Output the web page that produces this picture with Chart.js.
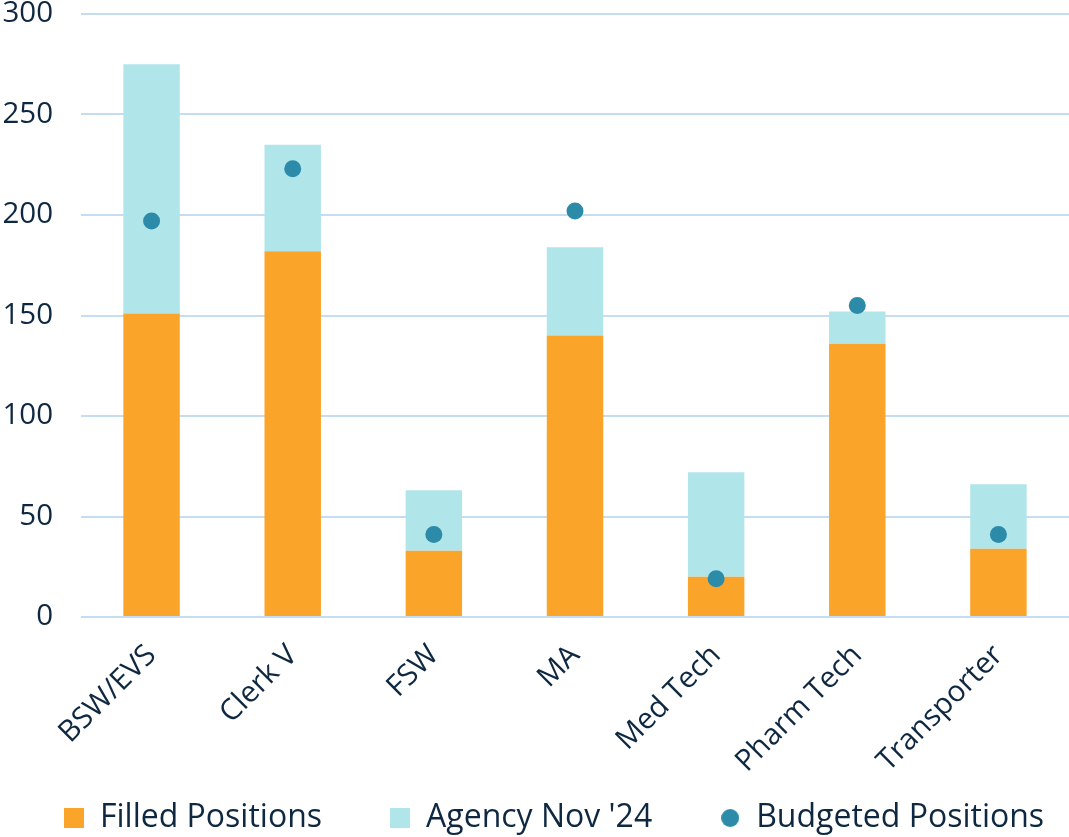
<!DOCTYPE html>
<html>
<head>
<meta charset="utf-8">
<script src="https://cdn.jsdelivr.net/npm/chart.js@4/dist/chart.umd.min.js"></script>
<style>
  html, body { margin: 0; padding: 0; background: #fff; overflow: hidden; }
  #wrap { width: 1069px; height: 837px; }
  canvas { display: block; }
</style>
</head>
<body>
<div id="wrap"><canvas id="myChart"></canvas></div>
<script>
const categories = ["BSW/EVS", "Clerk V", "FSW", "MA", "Med Tech", "Pharm Tech", "Transporter"];
const filledPositions = [151, 182, 33, 140, 20, 136, 34];
const agencyNov24 = [124, 53, 30, 44, 52, 16, 32];
const budgetedPositions = [197, 223, 41, 202, 19, 155, 41];
const yTicks = [0, 50, 100, 150, 200, 250, 300];

const textColor = "#0E2841";
const gridColor = "#C5DDF3";
const dotColor = "#2D8BAA";
const tickFont = { family: "Open Sans", size: 29.5 };
const legendFont = { family: "Open Sans", size: 32 };

// small dot image for the legend
const dotImg = document.createElement("canvas");
dotImg.width = 18;
dotImg.height = 18;
const dctx = dotImg.getContext("2d");
dctx.fillStyle = dotColor;
dctx.beginPath();
dctx.arc(9, 9, 9, 0, Math.PI * 2);
dctx.fill();

const legendHeight = 57;
const legendFit = {
  id: "legendFit",
  beforeInit(chart) {
    const origFit = chart.legend.fit;
    chart.legend.fit = function () {
      // keep all three items on one row
      this.maxWidth = 3000;
      origFit.bind(chart.legend)();
      this.width = chart.width;
      this.height = legendHeight;
    };
  },
  afterLayout(chart) {
    // pull the legend row up so it sits where the reference has it
    const lg = chart.legend;
    lg.top = 818 - 68 - 16;
    lg.left -= 4;
    lg.right = 3000;
  },
};

const ctx = document.getElementById("myChart").getContext("2d");
const myChart = new Chart(ctx, {
  type: "bar",
  data: {
    labels: categories,
    datasets: [
      {
        label: "Filled Positions",
        data: filledPositions,
        backgroundColor: "#FBA42A",
        stack: "pos",
        order: 2,
        pointStyle: "rect",
      },
      {
        label: "Agency Nov '24",
        data: agencyNov24,
        backgroundColor: "#B0E5EA",
        stack: "pos",
        order: 2,
        pointStyle: "rect",
      },
      {
        type: "line",
        label: "Budgeted Positions",
        data: budgetedPositions,
        stack: "budget",
        showLine: false,
        pointRadius: 8.5,
        pointHoverRadius: 8.5,
        pointBackgroundColor: dotColor,
        pointBorderWidth: 0,
        backgroundColor: dotColor,
        borderColor: dotColor,
        pointStyle: "circle",
        order: 0,
      },
    ],
  },
  options: {
    responsive: true,
    maintainAspectRatio: false,
    animation: false,
    datasets: {
      bar: { barPercentage: 0.4, categoryPercentage: 1 },
    },
    layout: {
      autoPadding: false,
      padding: { left: 0, right: 0, top: 14, bottom: 0 },
    },
    plugins: {
      tooltip: { enabled: false },
      legend: {
        position: "bottom",
        align: "start",
        labels: {
          usePointStyle: true,
          boxHeight: 20,
          boxWidth: 20,
          padding: 68,
          color: textColor,
          font: legendFont,
          generateLabels: (chart) => {
            const items = Chart.defaults.plugins.legend.labels.generateLabels(chart);
            items.sort((a, b) => a.datasetIndex - b.datasetIndex);
            items.forEach((it) => {
              it.lineWidth = 0;
              if (it.datasetIndex === 2) it.pointStyle = dotImg;
            });
            return items;
          },
        },
      },
    },
    scales: {
      x: {
        stacked: true,
        grid: { display: false },
        border: { display: false },
        ticks: {
          color: textColor,
          font: tickFont,
          maxRotation: 45,
          minRotation: 45,
          padding: 13,
        },
        afterFit: (axis) => {
          axis.paddingLeft = 0;
          axis.paddingRight = 0;
          axis.height = 837 - legendHeight - 617;
        },
      },
      y: {
        stacked: true,
        min: 0,
        max: 300,
        afterBuildTicks: (axis) => {
          axis.ticks = yTicks.map((v) => ({ value: v }));
        },
        grid: { color: gridColor, lineWidth: 2, drawTicks: false },
        border: { display: false },
        ticks: {
          color: textColor,
          font: tickFont,
          padding: 28,
        },
        afterFit: (axis) => {
          axis.width = 81;
          axis.paddingTop = 0;
          axis.paddingBottom = 0;
        },
      },
    },
  },
  plugins: [legendFit],
});
</script>
</body>
</html>
